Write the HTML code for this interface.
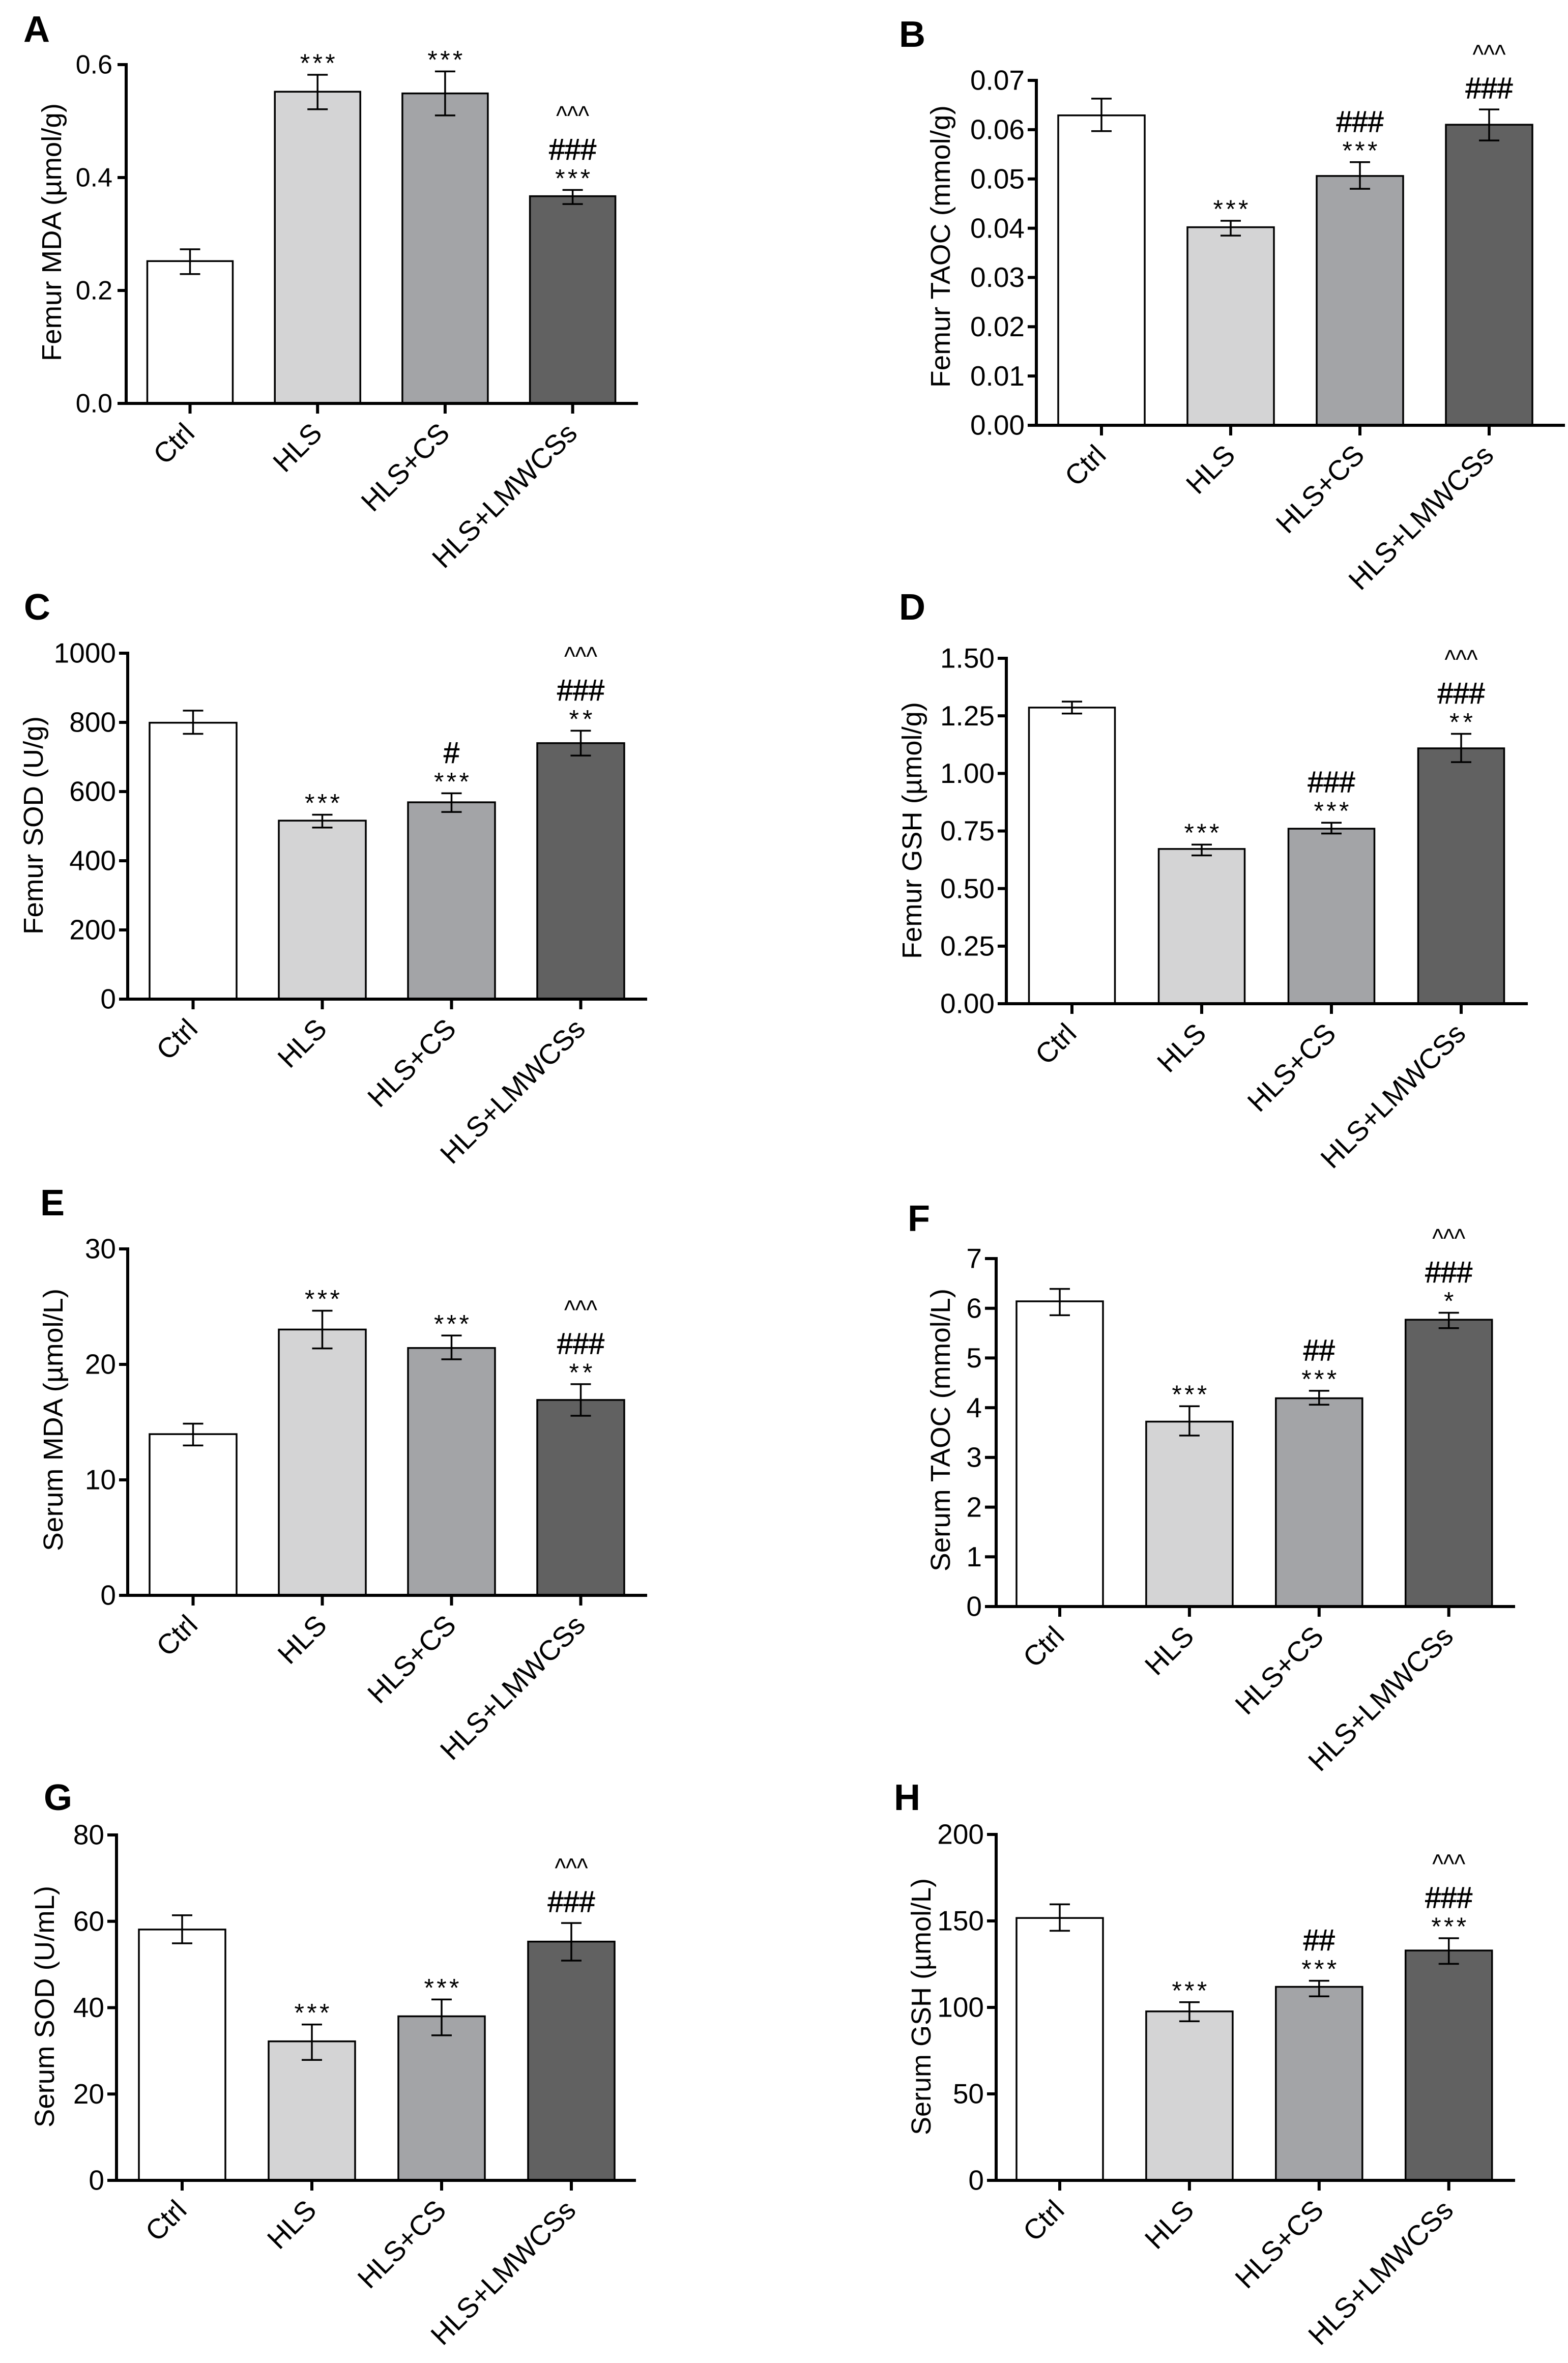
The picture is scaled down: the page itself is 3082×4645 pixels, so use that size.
<!DOCTYPE html>
<html lang="en">
<head>
<meta charset="utf-8">
<title>Femur and serum oxidative stress markers</title>
<style>
html,body{margin:0;padding:0;background:#fff;}
svg{display:block;}
text{font-family:"Liberation Sans",Arial,sans-serif;fill:#000;}
.panel-letter{font-weight:bold;font-size:72px;}
.y-title{font-size:54px;}
</style>
</head>
<body>
<svg id="figure" xmlns="http://www.w3.org/2000/svg" width="3082" height="4645" viewBox="0 0 3082 4645">
<rect x="0" y="0" width="3082" height="4645" fill="#ffffff"/>
<g id="panel-a">
  <text class="panel-letter" x="46" y="82">A</text>
  <text class="y-title" transform="translate(120,710) rotate(-90)" textLength="507" lengthAdjust="spacingAndGlyphs">Femur MDA (µmol/g)</text>
</g>
<g id="panel-b">
  <text class="panel-letter" x="1767" y="92">B</text>
  <text class="y-title" transform="translate(1867,762) rotate(-90)" textLength="555" lengthAdjust="spacingAndGlyphs">Femur TAOC (mmol/g)</text>
</g>
<g id="panel-c">
  <text class="panel-letter" x="47" y="1218">C</text>
  <text class="y-title" transform="translate(84,1837) rotate(-90)" textLength="429" lengthAdjust="spacingAndGlyphs">Femur SOD (U/g)</text>
</g>
<g id="panel-d">
  <text class="panel-letter" x="1767" y="1218">D</text>
  <text class="y-title" transform="translate(1811,1885) rotate(-90)" textLength="505" lengthAdjust="spacingAndGlyphs">Femur GSH (µmol/g)</text>
</g>
<g id="panel-e">
  <text class="panel-letter" x="79" y="2389">E</text>
  <text class="y-title" transform="translate(123,3049) rotate(-90)" textLength="516" lengthAdjust="spacingAndGlyphs">Serum MDA (µmol/L)</text>
</g>
<g id="panel-f">
  <text class="panel-letter" x="1784" y="2420">F</text>
  <text class="y-title" transform="translate(1867,3089) rotate(-90)" textLength="556" lengthAdjust="spacingAndGlyphs">Serum TAOC (mmol/L)</text>
</g>
<g id="panel-g">
  <text class="panel-letter" x="86" y="3558">G</text>
  <text class="y-title" transform="translate(106,4182) rotate(-90)" textLength="475" lengthAdjust="spacingAndGlyphs">Serum SOD (U/mL)</text>
</g>
<g id="panel-h">
  <text class="panel-letter" x="1757" y="3558">H</text>
  <text class="y-title" transform="translate(1829,4197) rotate(-90)" textLength="505" lengthAdjust="spacingAndGlyphs">Serum GSH (µmol/L)</text>
</g>
</svg>
<script>
const categories = ['Ctrl', 'HLS', 'HLS+CS', 'HLS+LMWCSs'];
const barFills = ['#ffffff', '#d4d4d5', '#a3a4a7', '#616161'];

const aTicks = ['0.0', '0.2', '0.4', '0.6'];
const aValues = [0.252, 0.552, 0.549, 0.367];
const aErrHigh = [0.273, 0.582, 0.588, 0.378];
const aErrLow = [0.229, 0.521, 0.510, 0.353];
const aStars = ['', '***', '***', '***'];
const aHashes = ['', '', '', '###'];
const aCarets = ['', '', '', '^^^'];

const bTicks = ['0.00', '0.01', '0.02', '0.03', '0.04', '0.05', '0.06', '0.07'];
const bValues = [0.0629, 0.0402, 0.0506, 0.0610];
const bErrHigh = [0.0663, 0.0415, 0.0534, 0.0641];
const bErrLow = [0.0597, 0.0385, 0.0480, 0.0578];
const bStars = ['', '***', '***', ''];
const bHashes = ['', '', '###', '###'];
const bCarets = ['', '', '', '^^^'];

const cTicks = ['0', '200', '400', '600', '800', '1000'];
const cValues = [799, 516, 569, 740];
const cErrHigh = [834, 533, 595, 776];
const cErrLow = [767, 496, 541, 704];
const cStars = ['', '***', '***', '**'];
const cHashes = ['', '', '#', '###'];
const cCarets = ['', '', '', '^^^'];

const dTicks = ['0.00', '0.25', '0.50', '0.75', '1.00', '1.25', '1.50'];
const dValues = [1.286, 0.672, 0.760, 1.109];
const dErrHigh = [1.312, 0.691, 0.786, 1.172];
const dErrLow = [1.260, 0.644, 0.739, 1.049];
const dStars = ['', '***', '***', '**'];
const dHashes = ['', '', '###', '###'];
const dCarets = ['', '', '', '^^^'];

const eTicks = ['0', '10', '20', '30'];
const eValues = [13.96, 23.02, 21.42, 16.92];
const eErrHigh = [14.87, 24.65, 22.50, 18.29];
const eErrLow = [12.98, 21.38, 20.44, 15.55];
const eStars = ['', '***', '***', '**'];
const eHashes = ['', '', '', '###'];
const eCarets = ['', '', '', '^^^'];

const fTicks = ['0', '1', '2', '3', '4', '5', '6', '7'];
const fValues = [6.14, 3.72, 4.19, 5.77];
const fErrHigh = [6.39, 4.03, 4.34, 5.91];
const fErrLow = [5.86, 3.44, 4.06, 5.60];
const fStars = ['', '***', '***', '*'];
const fHashes = ['', '', '##', '###'];
const fCarets = ['', '', '', '^^^'];

const gTicks = ['0', '20', '40', '60', '80'];
const gValues = [58.1, 32.2, 38.0, 55.3];
const gErrHigh = [61.4, 36.1, 41.9, 59.6];
const gErrLow = [54.9, 27.9, 33.6, 50.9];
const gStars = ['', '***', '***', ''];
const gHashes = ['', '', '', '###'];
const gCarets = ['', '', '', '^^^'];

const hTicks = ['0', '50', '100', '150', '200'];
const hValues = [151.7, 97.7, 111.9, 132.9];
const hErrHigh = [159.6, 103.0, 115.4, 140.0];
const hErrLow = [144.3, 92.0, 106.4, 125.2];
const hStars = ['', '***', '***', '***'];
const hHashes = ['', '', '##', '###'];
const hCarets = ['', '', '', '^^^'];

const NS = 'http://www.w3.org/2000/svg';

function make(tag, parent) {
  const node = document.createElementNS(NS, tag);
  parent.appendChild(node);
  return node;
}

function drawLine(node, x1, y1, x2, y2, width) {
  node.setAttribute('x1', x1);
  node.setAttribute('y1', y1);
  node.setAttribute('x2', x2);
  node.setAttribute('y2', y2);
  node.setAttribute('stroke', '#000');
  node.setAttribute('stroke-width', width);
}

function drawAnnotation(node, text, x, baseline, size, length, adjust) {
  node.textContent = text;
  node.setAttribute('x', x);
  node.setAttribute('y', baseline);
  node.setAttribute('font-size', size);
  node.setAttribute('text-anchor', 'middle');
  node.setAttribute('textLength', length);
  node.setAttribute('lengthAdjust', adjust);
}

function drawPanel(cfg) {
  const root = document.getElementById('panel-' + cfg.id);
  const maxValue = Number(cfg.ticks[cfg.ticks.length - 1]);
  const yScale = function (v) { return cfg.base - (v / maxValue) * (cfg.base - cfg.top); };
  const xScale = function (i) { return cfg.x0 + i * cfg.step; };

  categories.forEach(function (cat, i) {
    const cx = xScale(i);
    const topY = yScale(cfg.values[i]);
    const bar = make('rect', root);
    
    
    bar.setAttribute('x', cx - cfg.barW / 2);
    bar.setAttribute('y', topY);
    bar.setAttribute('width', cfg.barW);
    bar.setAttribute('height', cfg.base - topY);
    bar.setAttribute('fill', barFills[i]);
    bar.setAttribute('stroke', '#000');
    bar.setAttribute('stroke-width', 3.5);

    const hiY = yScale(cfg.errHigh[i]);
    const loY = yScale(cfg.errLow[i]);
    const stem = make('line', root);
    
    
    drawLine(stem, cx, hiY, cx, loY, 3.5);
    const capHi = make('line', root);
    
    
    drawLine(capHi, cx - 20, hiY, cx + 20, hiY, 3.5);
    const capLo = make('line', root);
    
    
    drawLine(capLo, cx - 20, loY, cx + 20, loY, 3.5);

    let cursor = hiY;
    if (cfg.stars[i]) {
      cursor = cursor - 30;
      const star = make('text', root);
      
      
      drawAnnotation(star, cfg.stars[i], cx, cursor + 24, 50, 23 * cfg.stars[i].length, 'spacing');
    }
    if (cfg.hashes[i]) {
      cursor = cursor - (cfg.stars[i] ? 50 : 42);
      const hash = make('text', root);
      
      
      drawAnnotation(hash, cfg.hashes[i], cx, cursor + 20, 58, 31 * cfg.hashes[i].length, 'spacingAndGlyphs');
      hash.setAttribute('stroke', '#000');
      hash.setAttribute('stroke-width', 1);
    }
    if (cfg.carets[i]) {
      cursor = cursor - 75;
      const caret = make('text', root);
      
      
      drawAnnotation(caret, cfg.carets[i], cx, cursor + 27, 54, 65, 'spacingAndGlyphs');
    }

    const xTick = make('line', root);
    
    
    drawLine(xTick, cx, cfg.base, cx, cfg.base + 20, 6);

    const label = make('text', root);
    
    
    label.textContent = cat;
    label.setAttribute('font-size', 55.5);
    label.setAttribute('text-anchor', 'end');
    label.setAttribute('transform', 'translate(' + (cx + 12) + ',' + (cfg.base + 62) + ') rotate(-45)');
  });

  const yAxis = make('line', root);
  
  
  drawLine(yAxis, cfg.axisX, cfg.top - 3, cfg.axisX, cfg.base + 3, 6);
  const xAxis = make('line', root);
  
  
  drawLine(xAxis, cfg.tickL, cfg.base, cfg.xEnd, cfg.base, 6);

  cfg.ticks.forEach(function (tickText) {
    const ty = yScale(Number(tickText));
    const tick = make('line', root);
    
    
    drawLine(tick, cfg.tickL, ty, cfg.axisX, ty, 6);
    const label = make('text', root);
    
    
    label.textContent = tickText;
    label.setAttribute('x', cfg.tickL - cfg.tickGap);
    label.setAttribute('y', ty + cfg.tickSize * 0.34);
    label.setAttribute('font-size', cfg.tickSize);
    label.setAttribute('text-anchor', 'end');
  });
}

const panels = [
  {id: 'a', ticks: aTicks, values: aValues, errHigh: aErrHigh, errLow: aErrLow, stars: aStars, hashes: aHashes, carets: aCarets,
   axisX: 248, tickL: 231, xEnd: 1254, top: 127, base: 793, x0: 373.5, step: 250.7, barW: 168, tickSize: 52, tickGap: 10},
  {id: 'b', ticks: bTicks, values: bValues, errHigh: bErrHigh, errLow: bErrLow, stars: bStars, hashes: bHashes, carets: bCarets,
   axisX: 2037, tickL: 2020, xEnd: 3076, top: 158, base: 836, x0: 2165, step: 254, barW: 170, tickSize: 55, tickGap: 6},
  {id: 'c', ticks: cTicks, values: cValues, errHigh: cErrHigh, errLow: cErrLow, stars: cStars, hashes: cHashes, carets: cCarets,
   axisX: 251, tickL: 234, xEnd: 1272, top: 1284, base: 1964, x0: 379.5, step: 254, barW: 171, tickSize: 55, tickGap: 6},
  {id: 'd', ticks: dTicks, values: dValues, errHigh: dErrHigh, errLow: dErrLow, stars: dStars, hashes: dHashes, carets: dCarets,
   axisX: 1978, tickL: 1961, xEnd: 3003, top: 1294, base: 1973, x0: 2107, step: 255, barW: 169, tickSize: 55, tickGap: 6},
  {id: 'e', ticks: eTicks, values: eValues, errHigh: eErrHigh, errLow: eErrLow, stars: eStars, hashes: eHashes, carets: eCarets,
   axisX: 251, tickL: 234, xEnd: 1272, top: 2455, base: 3136, x0: 379.5, step: 254, barW: 171, tickSize: 55, tickGap: 6},
  {id: 'f', ticks: fTicks, values: fValues, errHigh: fErrHigh, errLow: fErrLow, stars: fStars, hashes: fHashes, carets: fCarets,
   axisX: 1958, tickL: 1936, xEnd: 2978, top: 2474, base: 3158, x0: 2083, step: 254.9, barW: 170, tickSize: 55, tickGap: 6},
  {id: 'g', ticks: gTicks, values: gValues, errHigh: gErrHigh, errLow: gErrLow, stars: gStars, hashes: gHashes, carets: gCarets,
   axisX: 229, tickL: 211, xEnd: 1250, top: 3607, base: 4286, x0: 358, step: 255, barW: 170, tickSize: 55, tickGap: 6},
  {id: 'h', ticks: hTicks, values: hValues, errHigh: hErrHigh, errLow: hErrLow, stars: hStars, hashes: hHashes, carets: hCarets,
   axisX: 1958, tickL: 1940, xEnd: 2978, top: 3606, base: 4286, x0: 2083, step: 254.9, barW: 170, tickSize: 55, tickGap: 6}
];

panels.forEach(drawPanel);
</script>
</body>
</html>
